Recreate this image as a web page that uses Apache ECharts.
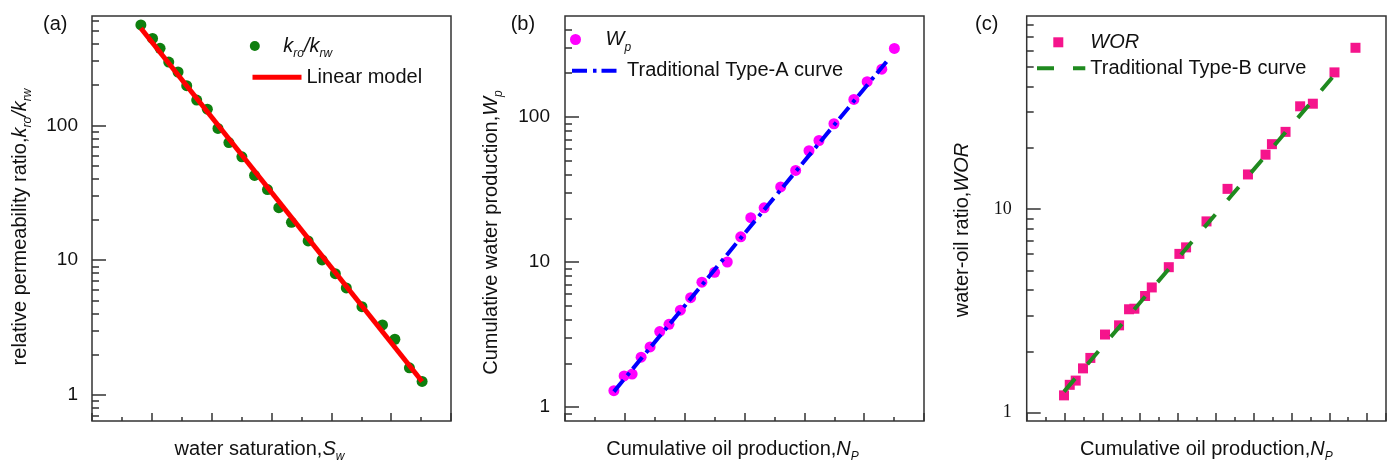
<!DOCTYPE html>
<html><head><meta charset="utf-8">
<script src="https://cdn.jsdelivr.net/npm/echarts@6/dist/echarts.min.js"></script>
<style>html,body{margin:0;padding:0;background:#fff}#c{width:1390px;height:468px}</style>
</head><body><div id="c"></div>
<script>
// ---------- Panel (a) ----------
const aSw = [0.817,1.012,1.138,1.283,1.438,1.583,1.75,1.928,2.105,2.288,2.505,2.717,2.933,3.122,3.333,3.612,3.845,4.067,4.25,4.512,4.855,5.062,5.305,5.517];
const aKr = [556,442,373,295,249,197,154,132,95,74.6,58.5,42.5,33.4,24.5,19.1,13.9,10.05,7.94,6.23,4.52,3.31,2.59,1.59,1.26];
const aLineSw = [0.817,5.517];
const aLineKr = [526,1.26];
const aMajorTicks = [1,10,100];
const aMinorTicks = [0.7,0.8,0.9,2,3,4,5,6,7,8,9,20,30,40,50,60,70,80,90,200,300,400,500,600];
// ---------- Panel (b) ----------
const bNp = [0.817,0.988,1.122,1.272,1.422,1.583,1.738,1.928,2.1,2.288,2.5,2.712,2.937,3.105,3.328,3.605,3.855,4.078,4.245,4.495,4.828,5.05,5.295,5.505];
const bWp = [1.30,1.64,1.69,2.21,2.60,3.32,3.72,4.66,5.68,7.26,8.49,10.0,14.9,20.2,23.6,32.9,42.7,58.4,68.7,89.6,131.8,174.6,212.9,295.8];
const bLineNp = [0.817,5.43];
const bLineWp = [1.28,256];
const bMajorTicks = [1,10,100];
const bMinorTicks = [0.9,2,3,4,5,6,7,8,9,20,30,40,50,60,70,80,90,200,300,400];
// ---------- Panel (c) ----------
const cNp = [0.987,1.138,1.296,1.489,1.683,2.071,2.442,2.706,2.847,3.13,3.307,3.757,4.037,4.214,4.754,5.31,5.85,6.315,6.484,6.844,7.23,7.566,8.138,8.693];
const cWor = [1.217,1.371,1.438,1.651,1.858,2.42,2.685,3.22,3.24,3.74,4.12,5.18,6.02,6.48,8.69,12.55,14.77,18.47,20.8,23.9,31.9,32.85,46.8,61.8];
const cLineNp = [0.987,8.341];
const cLineWor = [1.27,50.3];
const cMajorTicks = [1,10];
const cMinorTicks = [2,3,4,5,6,7,8,9,20,30,40,50,60,70,80];

const SANS = "'Liberation Sans', Arial, sans-serif";
const SERIF = "'Liberation Serif', 'Times New Roman', serif";
const TXT = '#111';
const AX = '#333';

function pairs(xs, ys){ return xs.map((x,i)=>[x, ys[i]]); }

const richName = {
  n: {fontSize:20, fontFamily:SANS, color:TXT, lineHeight:28},
  i: {fontSize:20, fontFamily:SANS, color:TXT, fontStyle:'italic', lineHeight:28},
  s: {fontSize:12, fontFamily:SANS, color:TXT, fontStyle:'italic', lineHeight:12, verticalAlign:'bottom'}
};

const grids = [
  {left:92, top:16, width:359, height:410.7},
  {left:565, top:16, width:359, height:410.7},
  {left:1026.7, top:16, width:359.3, height:410.7}
].map(g => Object.assign(g, {show:true, borderColor:AX, borderWidth:1.5, backgroundColor:'transparent'}));

function xAxis(gi, max, name, pad){
  return {
    type:'value', gridIndex:gi, min:0, max:max, interval:1,
    axisLine:{show:false, onZero:false},
    axisTick:{inside:true, length:8, lineStyle:{color:AX, width:1.5}},
    minorTick:{show:true, splitNumber:2, length:4, lineStyle:{color:AX, width:1.5}},
    axisLabel:{show:false}, splitLine:{show:false}, minorSplitLine:{show:false},
    name:name, nameLocation:'middle', nameGap:14,
    nameTextStyle:{rich:richName, padding:pad}
  };
}
function yAxes(gi, min, max, major, minor, name, gap, pad, font, fs, margin){
  return [{
    type:'log', logBase:10, gridIndex:gi, min:min, max:max, position:'left',
    axisLine:{show:false, onZero:false},
    axisTick:{inside:true, length:14, customValues:major, lineStyle:{color:AX, width:1.5}},
    axisLabel:{customValues:major, margin:margin, fontSize:fs, fontFamily:font, color:TXT},
    splitLine:{show:false}, minorTick:{show:false},
    name:name, nameLocation:'middle', nameGap:gap,
    nameTextStyle:{rich:richName, padding:pad}
  },{
    type:'log', logBase:10, gridIndex:gi, min:min, max:max, position:'left',
    axisLine:{show:false, onZero:false},
    axisTick:{inside:true, length:7, customValues:minor, lineStyle:{color:AX, width:1.5}},
    axisLabel:{show:false}, splitLine:{show:false}, minorTick:{show:false}
  }];
}

const legRich = {
  i: {fontSize:20, fontFamily:SANS, color:TXT, fontStyle:'italic', lineHeight:28},
  s: {fontSize:12, fontFamily:SANS, color:TXT, fontStyle:'italic', lineHeight:12, verticalAlign:'bottom'},
  n: {fontSize:20, fontFamily:SANS, color:TXT, lineHeight:28},
  g: {width:22, lineHeight:28}
};
function legend(name, left, top, w, h, fmt, extra){
  return Object.assign({
    data:[name], left:left, top:top, itemWidth:w, itemHeight:h, padding:0,
    selectedMode:false, formatter:()=>fmt,
    textStyle:{fontSize:20, fontFamily:SANS, color:TXT, rich:legRich}
  }, extra||{});
}
function lineLegendItem(name, width){
  return {data:[{name:name, itemStyle:{opacity:0}}], lineStyle:{width:width}};
}
const titleStyle = {fontSize:20, fontWeight:'normal', fontFamily:SANS, color:TXT};

const option = {
  animation:false,
  backgroundColor:'#fff',
  title:[
    {text:'(a)', left:38, top:9, textStyle:titleStyle},
    {text:'(b)', left:505.7, top:9, textStyle:titleStyle},
    {text:'(c)', left:970, top:9, textStyle:titleStyle}
  ],
  grid:grids,
  xAxis:[
    xAxis(0, 6, '{n|water saturation,}{i|S}{s|w}', [0,24,0,0]),
    xAxis(1, 6, '{n|Cumulative oil production,}{i|N}{s|P}', [0,24,0,0]),
    xAxis(2, 9.5, '{n|Cumulative oil production,}{i|N}{s|P}', [0,0,0,0])
  ],
  yAxis:[].concat(
    yAxes(0, 0.641, 648, aMajorTicks, aMinorTicks, '{n|relative permeability ratio,}{i|k}{s|ro}{i|/k}{s|rw}', 58, [0,17,0,0], SANS, 19, 14),
    yAxes(1, 0.803, 495, bMajorTicks, bMinorTicks, '{n|Cumulative water production,}{i|W}{s|p}', 60, [0,28,0,0], SANS, 19, 15),
    yAxes(2, 0.911, 88.5, cMajorTicks, cMinorTicks, '{n|water-oil ratio,}{i|WOR}', 50, [0,23,0,0], SERIF, 18, 15)
  ),
  legend:[
    legend('kro/krw', 249.8, 36, 47, 10, '{i|k}{s|ro}{i|/k}{s|rw}'),
    legend('Linear model', 250, 67.3, 49, 10, 'Linear model', lineLegendItem('Linear model', 5)),
    legend('Wp', 570, 29.5, 50, 11, '{i|W}{s|p}'),
    legend('Traditional Type-A curve', 570, 60.7, 50, 10, 'Traditional Type-A curve', lineLegendItem('Traditional Type-A curve', 4)),
    legend('WOR', 1053.3, 32.3, 10, 10, '{g|}{i|WOR}'),
    legend('Traditional Type-B curve', 1035, 58.3, 48.3, 10, 'Traditional Type-B curve', lineLegendItem('Traditional Type-B curve', 4))
  ],
  series:[
    {name:'kro/krw', type:'scatter', xAxisIndex:0, yAxisIndex:0, data:pairs(aSw,aKr), symbol:'circle', symbolSize:11, itemStyle:{color:'#0e7f0e', opacity:1}, z:2},
    {name:'Linear model', type:'line', xAxisIndex:0, yAxisIndex:0, data:pairs(aLineSw,aLineKr), symbol:'none', lineStyle:{color:'#ff0000', width:5}, z:3},
    {name:'Wp', type:'scatter', xAxisIndex:1, yAxisIndex:2, data:pairs(bNp,bWp), symbol:'circle', symbolSize:11, itemStyle:{color:'#ff00ff', opacity:1}, z:2},
    {name:'Traditional Type-A curve', type:'line', xAxisIndex:1, yAxisIndex:2, data:pairs(bLineNp,bLineWp), symbol:'none', lineStyle:{color:'#0000ff', width:4, type:[15,6,3.5,5]}, z:3},
    {name:'WOR', type:'scatter', xAxisIndex:2, yAxisIndex:4, data:pairs(cNp,cWor), symbol:'rect', symbolSize:10, itemStyle:{color:'#f5148c', opacity:1}, z:2},
    {name:'Traditional Type-B curve', type:'line', xAxisIndex:2, yAxisIndex:4, data:pairs(cLineNp,cLineWor), symbol:'none', lineStyle:{color:'#1f8a1f', width:4, type:[17,19]}, z:3}
  ]
};
const chart = echarts.init(document.getElementById('c'), null, {renderer:'canvas'});
chart.setOption(option);
</script></body></html>
